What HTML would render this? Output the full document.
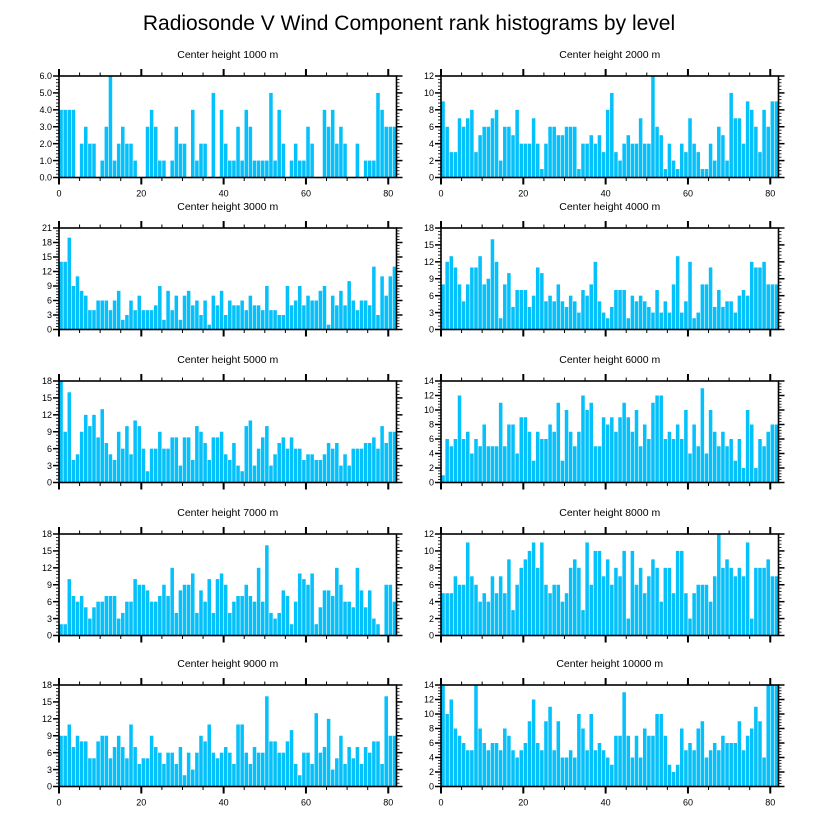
<!DOCTYPE html>
<html><head><meta charset="utf-8"><style>
html,body{margin:0;padding:0;background:#fff;width:818px;height:824px;overflow:hidden}
svg text{font-family:"Liberation Sans",Arial,sans-serif}
</style></head><body>
<svg id="chart" width="818" height="824" xmlns="http://www.w3.org/2000/svg">
<text x="409" y="30" text-anchor="middle" font-size="21">Radiosonde V Wind Component rank histograms by level</text>
</svg>
<script>
const levels = [1000,2000,3000,4000,5000,6000,7000,8000,9000,10000];
const yMaxes = [6,12,21,18,18,14,18,12,18,14];
const ySteps = [1,2,3,3,3,2,3,2,3,2];
const xTicks = [0,20,40,60,80];
const counts1000 = [4,4,4,4,0,2,3,2,2,0,1,3,6,1,2,3,2,2,1,0,0,3,4,3,1,1,0,1,3,2,2,0,4,1,2,2,0,5,0,4,2,1,1,3,1,4,3,1,1,1,1,5,1,4,2,0,1,2,1,1,3,2,0,0,4,3,4,2,3,2,0,0,2,0,1,1,1,5,4,3,3,3];
const counts2000 = [9,6,3,3,7,6,7,8,3,5,6,6,7,8,2,6,6,5,8,4,4,4,7,4,1,4,6,6,5,5,6,6,6,1,4,4,5,4,5,3,8,10,3,2,4,5,4,4,7,4,4,12,6,5,1,4,2,1,4,3,7,4,3,1,1,4,2,6,5,2,10,7,7,4,9,8,6,3,8,6,9,9];
const counts3000 = [14,14,19,9,11,8,7,4,4,6,6,6,4,6,8,2,3,6,4,7,4,4,4,5,9,2,8,4,7,2,7,8,5,6,3,6,1,7,5,8,3,6,5,5,6,4,7,5,5,4,9,4,4,3,3,9,5,6,9,5,7,6,6,8,9,1,7,5,8,5,10,6,4,6,6,5,13,3,11,7,11,13];
const counts4000 = [8,12,13,11,8,5,8,11,11,13,8,9,16,12,2,8,10,4,7,7,7,4,6,11,10,5,6,5,8,5,4,6,5,3,7,6,8,12,5,3,2,4,7,7,7,2,6,5,6,5,4,3,7,3,5,3,8,13,3,5,12,2,3,8,8,11,4,7,4,5,5,3,6,7,6,12,11,11,12,8,8,8];
const counts5000 = [18,9,16,4,5,9,12,10,12,8,13,7,5,4,9,6,10,5,11,10,6,2,6,6,9,6,6,8,8,3,8,8,4,10,9,7,4,8,8,9,5,4,7,3,2,10,11,3,6,8,10,3,5,7,8,6,8,6,6,4,5,5,4,4,5,7,6,7,3,5,3,6,6,6,7,7,8,6,10,7,9,9];
const counts6000 = [1,6,5,6,12,6,7,4,6,5,8,5,5,5,11,5,8,8,4,9,9,7,3,7,6,6,8,7,11,3,10,7,5,7,12,10,11,5,5,9,8,9,7,9,11,9,7,10,5,8,6,11,12,12,6,7,6,8,6,10,4,8,5,13,4,10,7,5,7,5,6,3,6,2,10,8,2,6,5,7,8,8];
const counts7000 = [2,2,10,7,6,7,5,3,5,6,6,7,7,7,3,4,6,6,10,9,9,8,6,6,7,9,7,12,4,8,9,9,11,4,8,6,10,4,10,11,9,4,6,7,7,9,7,6,12,6,16,4,3,4,8,7,2,6,11,10,9,11,2,5,8,8,7,12,9,6,6,5,12,8,5,8,3,2,0,9,9,6];
const counts8000 = [5,5,5,7,6,6,11,7,6,4,5,4,7,5,7,5,9,3,6,8,9,10,11,8,11,6,5,6,6,4,5,8,9,8,3,11,6,10,10,7,9,6,8,7,10,2,10,6,8,5,7,9,8,4,8,8,5,10,10,5,2,5,6,6,6,4,7,12,8,9,8,7,8,7,11,2,8,8,8,9,7,7];
const counts9000 = [9,9,11,7,9,8,8,5,5,8,9,9,5,7,9,7,5,11,7,4,5,5,9,7,6,4,6,6,4,7,2,6,3,6,9,8,11,6,5,6,7,6,4,11,11,6,4,7,6,6,16,8,8,6,6,8,10,4,2,6,6,4,13,6,7,12,3,5,9,4,7,5,7,4,7,6,8,8,4,16,9,9];
const counts10000 = [14,10,12,8,7,6,5,5,14,8,6,5,6,6,5,8,7,5,4,5,6,9,12,6,5,9,11,5,9,4,4,5,4,10,8,5,10,5,6,5,4,3,7,7,13,7,4,7,4,8,7,7,10,10,7,3,2,3,8,5,6,5,8,9,4,5,6,5,7,6,6,6,9,5,7,8,11,9,4,14,14,14];
const allCounts = [counts1000,counts2000,counts3000,counts4000,counts5000,counts6000,counts7000,counts8000,counts9000,counts10000];

const NS='http://www.w3.org/2000/svg';
const svg=document.getElementById('chart');
function mk(tag,attrs,parent){const e=document.createElementNS(NS,tag);for(const k in attrs)e.setAttribute(k,attrs[k]);(parent||svg).appendChild(e);return e;}
const colX=[59,441], rowY=[76,228,381,534,685], PW=337.5, PH=101.5, XMAX=82;
levels.forEach((lev,p)=>{
  const col=p%2,row=Math.floor(p/2);
  const x0=colX[col],y0=rowY[row];
  const ymax=yMaxes[p],step=ySteps[p],data=allCounts[p];
  const xs=v=>x0+v/XMAX*PW;
  const ys=v=>y0+PH-v/ymax*PH;
  const g=mk('g',{});
  
  
  const t=mk('text',{x:x0+PW/2,y:y0-18,'text-anchor':'middle','font-size':'10.5'},g);
  
  
  t.textContent='Center height '+lev+' m';
  data.forEach((v,i)=>{
    if(v<=0)return;
    const r=mk('rect',{x:xs(i)+0.3,y:ys(v),width:Math.max(0.5,xs(i+1)-xs(i)-0.6),height:ys(0)-ys(v),fill:'#04c0fb'},g);
    
    
  });
  const f=mk('rect',{x:x0,y:y0,width:PW,height:PH,fill:'none',stroke:'#000','stroke-width':1.6},g);
  
  
  // x ticks
  for(let v=0;v<=XMAX;v+=5){
    const major=v%20===0,L=major?7:3.5,x=xs(v);
    mk('line',{x1:x,x2:x,y1:y0,y2:y0-L,stroke:'#000','stroke-width':major?2:1},g);
    mk('line',{x1:x,x2:x,y1:y0+PH,y2:y0+PH+L,stroke:'#000','stroke-width':major?2:1},g);
  }
  if(row===0||row===4){
    xTicks.forEach(v=>{
      const l=mk('text',{x:xs(v),y:y0+PH+19,'text-anchor':'middle','font-size':'9'},g);
      
      
      l.textContent=v;
    });
  }
  // y ticks
  const minor=step/5;
  for(let k=0;k<=Math.round(ymax/minor);k++){
    const v=k*minor,major=k%5===0,L=major?6:3,y=ys(v);
    mk('line',{x1:x0,x2:x0-L,y1:y,y2:y,stroke:'#000','stroke-width':major?1.5:0.8},g);
    mk('line',{x1:x0+PW,x2:x0+PW+L,y1:y,y2:y,stroke:'#000','stroke-width':major?1.5:0.8},g);
  }
  for(let v=0;v<=ymax;v+=step){
    const l=mk('text',{x:x0-7,y:ys(v)+3.2,'text-anchor':'end','font-size':'9'},g);
    
    
    l.textContent=p===0?v.toFixed(1):v;
  }
});
</script>
</body></html>
